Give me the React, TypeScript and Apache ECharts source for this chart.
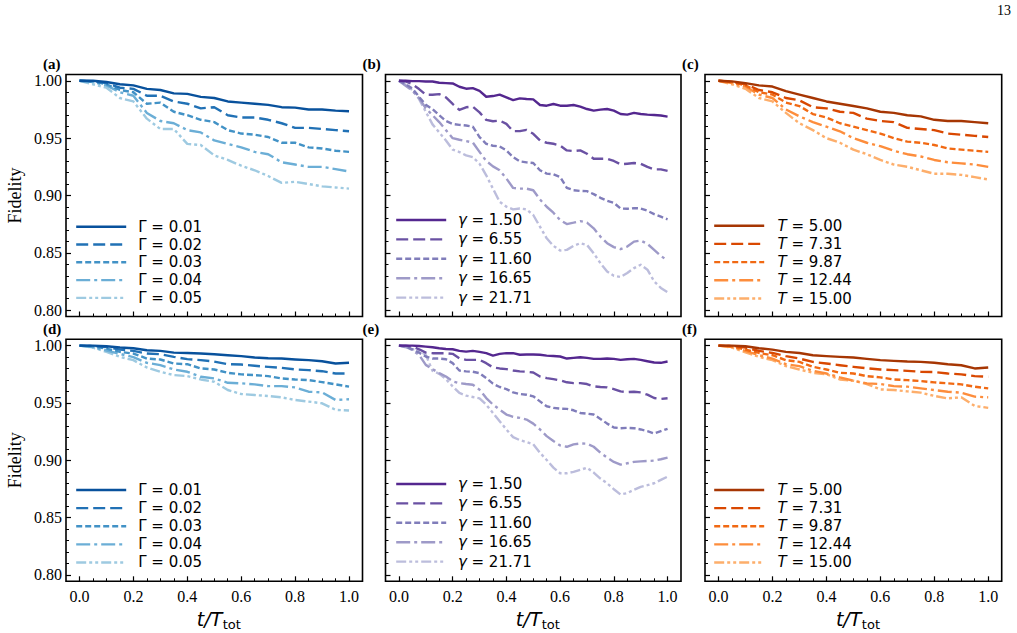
import React, { useEffect, useRef } from "react";
import * as echarts from "echarts";

// ---------- data ----------
const tCoarse = [0.0, 0.05, 0.1, 0.15, 0.2, 0.25, 0.3, 0.35, 0.4, 0.45, 0.5, 0.55, 0.6, 0.65, 0.7, 0.75, 0.8, 0.85, 0.9, 0.95, 1.0];
const tFine = [0.0, 0.025, 0.05, 0.075, 0.1, 0.125, 0.15, 0.175, 0.2, 0.225, 0.25, 0.275, 0.3, 0.325, 0.35, 0.375, 0.4, 0.425, 0.45, 0.475, 0.5, 0.525, 0.55, 0.575, 0.6, 0.625, 0.65, 0.675, 0.7, 0.725, 0.75, 0.775, 0.8, 0.825, 0.85, 0.875, 0.9, 0.925, 0.95, 0.975, 1.0];

const gammaBigLabels = ["Γ = 0.01", "Γ = 0.02", "Γ = 0.03", "Γ = 0.04", "Γ = 0.05"];
const gammaLabels = ["1.50", "6.55", "11.60", "16.65", "21.71"];
const tLabels = ["5.00", "7.31", "9.87", "12.44", "15.00"];

// (a)
const aG1 = [1.0, 1.0, 0.999, 0.997, 0.996, 0.993, 0.992, 0.989, 0.9886, 0.986, 0.985, 0.982, 0.981, 0.98, 0.979, 0.977, 0.9766, 0.975, 0.975, 0.974, 0.9734];
const aG2 = [1.0, 0.9995, 0.998, 0.994, 0.993, 0.987, 0.987, 0.982, 0.98, 0.976, 0.977, 0.97, 0.968, 0.968, 0.966, 0.963, 0.959, 0.959, 0.958, 0.957, 0.956];
const aG3 = [1.0, 0.9995, 0.997, 0.992, 0.99, 0.98, 0.981, 0.973, 0.97, 0.966, 0.964, 0.957, 0.954, 0.953, 0.951, 0.946, 0.946, 0.942, 0.941, 0.939, 0.938];
const aG4 = [1.0, 0.999, 0.996, 0.99, 0.987, 0.972, 0.965, 0.963, 0.957, 0.955, 0.948, 0.945, 0.942, 0.938, 0.936, 0.929, 0.927, 0.925, 0.925, 0.923, 0.921];
const aG5 = [1.0, 0.997, 0.994, 0.985, 0.982, 0.967, 0.958, 0.958, 0.945, 0.944, 0.935, 0.931, 0.926, 0.922, 0.917, 0.911, 0.912, 0.91, 0.908, 0.907, 0.906];

// (b)
const bG1 = [1.0, 1.0, 0.9997, 0.9997, 0.9994, 0.9994, 0.9983, 0.998, 0.9977, 0.9948, 0.9931, 0.9936, 0.9913, 0.9861, 0.9867, 0.9879, 0.9855, 0.9832, 0.9847, 0.9841, 0.9838, 0.9789, 0.9783, 0.9798, 0.9783, 0.9783, 0.9789, 0.9775, 0.9754, 0.974, 0.9749, 0.9754, 0.974, 0.9711, 0.9705, 0.972, 0.9711, 0.9705, 0.9702, 0.9697, 0.9688];
const bG2 = [1.0, 0.9994, 0.9971, 0.9928, 0.9879, 0.9879, 0.9884, 0.9855, 0.9798, 0.9746, 0.9769, 0.9775, 0.9725, 0.9659, 0.9647, 0.9653, 0.9624, 0.9561, 0.9561, 0.9572, 0.9538, 0.948, 0.946, 0.9451, 0.9436, 0.9393, 0.9387, 0.9393, 0.9364, 0.9321, 0.9321, 0.9321, 0.9301, 0.9272, 0.9277, 0.9283, 0.9277, 0.9249, 0.9228, 0.9228, 0.9214];
const bG3 = [1.0, 0.9971, 0.9933, 0.986, 0.979, 0.9754, 0.97, 0.965, 0.9624, 0.9616, 0.961, 0.9601, 0.9509, 0.9451, 0.9434, 0.9428, 0.9393, 0.9335, 0.9298, 0.9289, 0.9283, 0.922, 0.9191, 0.9185, 0.9162, 0.9067, 0.9046, 0.904, 0.9038, 0.9012, 0.898, 0.8954, 0.8936, 0.8887, 0.8884, 0.889, 0.8887, 0.8867, 0.8838, 0.8815, 0.8792];
const bG4 = [1.0, 0.9957, 0.9913, 0.985, 0.976, 0.97, 0.964, 0.957, 0.95, 0.9486, 0.9474, 0.9462, 0.938, 0.9301, 0.9254, 0.922, 0.9148, 0.9066, 0.906, 0.906, 0.9046, 0.8965, 0.8902, 0.885, 0.8786, 0.8751, 0.8763, 0.8777, 0.8763, 0.8714, 0.8642, 0.8584, 0.855, 0.8532, 0.8555, 0.8598, 0.8607, 0.8578, 0.8526, 0.8474, 0.8431];
const bG5 = [1.0, 0.9965, 0.9919, 0.984, 0.973, 0.962, 0.955, 0.948, 0.94, 0.9379, 0.935, 0.9335, 0.9277, 0.9176, 0.906, 0.8945, 0.8902, 0.8879, 0.8887, 0.8879, 0.883, 0.8728, 0.8627, 0.8561, 0.852, 0.8526, 0.8561, 0.8584, 0.8569, 0.8497, 0.841, 0.8338, 0.83, 0.8289, 0.8324, 0.8367, 0.8396, 0.8353, 0.8252, 0.8194, 0.8156];

// (c)
const cT1 = [1.0, 0.9995, 0.998, 0.996, 0.995, 0.991, 0.988, 0.985, 0.982, 0.98, 0.978, 0.976, 0.973, 0.972, 0.97, 0.969, 0.966, 0.965, 0.965, 0.964, 0.963];
const cT2 = [1.0, 0.999, 0.997, 0.992, 0.99, 0.985, 0.983, 0.977, 0.976, 0.973, 0.972, 0.967, 0.965, 0.964, 0.959, 0.958, 0.957, 0.954, 0.953, 0.952, 0.951];
const cT3 = [1.0, 0.999, 0.996, 0.99, 0.988, 0.981, 0.978, 0.971, 0.968, 0.963, 0.96, 0.957, 0.954, 0.95, 0.947, 0.946, 0.944, 0.941, 0.94, 0.939, 0.938];
const cT4 = [1.0, 0.998, 0.995, 0.988, 0.985, 0.975, 0.969, 0.964, 0.96, 0.956, 0.95, 0.946, 0.943, 0.939, 0.936, 0.934, 0.931, 0.929, 0.928, 0.927, 0.925];
const cT5 = [1.0, 0.997, 0.993, 0.985, 0.982, 0.972, 0.963, 0.957, 0.95, 0.946, 0.94, 0.936, 0.931, 0.927, 0.925, 0.922, 0.919, 0.919, 0.918, 0.916, 0.914];

// (d)
const dG1 = [1.0, 1.0, 0.9994, 0.9983, 0.9977, 0.996, 0.9954, 0.9939, 0.9936, 0.9931, 0.9925, 0.9916, 0.9908, 0.9896, 0.989, 0.9887, 0.9879, 0.9873, 0.9864, 0.9844, 0.985];
const dG2 = [1.0, 0.9997, 0.9988, 0.9965, 0.9954, 0.9931, 0.9925, 0.9902, 0.9882, 0.9873, 0.9861, 0.9838, 0.9835, 0.9824, 0.9815, 0.9806, 0.9792, 0.9786, 0.9777, 0.9757, 0.9757];
const dG3 = [1.0, 0.9994, 0.9974, 0.9945, 0.9931, 0.9887, 0.9879, 0.9844, 0.9838, 0.9801, 0.9792, 0.9763, 0.9749, 0.9743, 0.9734, 0.9714, 0.9705, 0.9699, 0.9682, 0.9662, 0.9642];
const dG4 = [1.0, 0.9986, 0.9957, 0.9928, 0.9899, 0.985, 0.983, 0.9792, 0.9772, 0.9728, 0.9714, 0.9676, 0.9671, 0.9662, 0.9647, 0.9647, 0.9636, 0.9598, 0.9592, 0.9526, 0.9532];
const dG5 = [1.0, 0.9983, 0.9945, 0.9902, 0.9873, 0.9809, 0.9772, 0.9743, 0.9734, 0.9705, 0.9685, 0.9613, 0.9578, 0.9569, 0.9561, 0.9549, 0.9526, 0.9512, 0.9497, 0.944, 0.9434];

// (e)
const eG1 = [1.0, 1.0, 1.0, 0.9997, 0.9991, 0.9986, 0.9977, 0.9971, 0.9968, 0.9954, 0.9948, 0.9954, 0.9945, 0.9934, 0.9913, 0.9928, 0.9934, 0.9934, 0.992, 0.9922, 0.9922, 0.992, 0.9913, 0.991, 0.9905, 0.9887, 0.9893, 0.9899, 0.9893, 0.9884, 0.9884, 0.9887, 0.9884, 0.9876, 0.9881, 0.9884, 0.9876, 0.9864, 0.9853, 0.985, 0.9861];
const eG2 = [1.0, 1.0, 0.9991, 0.9968, 0.9939, 0.9934, 0.9934, 0.9934, 0.9928, 0.989, 0.9876, 0.9876, 0.9876, 0.9847, 0.981, 0.9801, 0.9795, 0.9783, 0.9775, 0.9772, 0.9766, 0.9731, 0.9717, 0.9708, 0.9697, 0.968, 0.9673, 0.9673, 0.9665, 0.9645, 0.9639, 0.9636, 0.9621, 0.9601, 0.9595, 0.9598, 0.9592, 0.9572, 0.9543, 0.9535, 0.9541];
const eG3 = [1.0, 0.9991, 0.9968, 0.9939, 0.9905, 0.9887, 0.9887, 0.9881, 0.9847, 0.9783, 0.9775, 0.9772, 0.976, 0.9717, 0.9668, 0.9639, 0.9621, 0.9592, 0.9578, 0.9572, 0.9558, 0.9514, 0.9471, 0.9457, 0.9451, 0.9448, 0.9436, 0.9413, 0.9407, 0.9399, 0.9361, 0.932, 0.9286, 0.928, 0.9283, 0.928, 0.9269, 0.9254, 0.9234, 0.9254, 0.9275];
const eG4 = [1.0, 0.9991, 0.9962, 0.9919, 0.9832, 0.9795, 0.976, 0.9731, 0.9688, 0.9673, 0.9665, 0.9659, 0.9616, 0.9543, 0.9486, 0.9442, 0.9399, 0.9379, 0.937, 0.9355, 0.932, 0.9269, 0.9211, 0.9168, 0.913, 0.9118, 0.9139, 0.9147, 0.9145, 0.9118, 0.9066, 0.9023, 0.8986, 0.8962, 0.8974, 0.8986, 0.8991, 0.8994, 0.8997, 0.9009, 0.9023];
const eG5 = [1.0, 0.9986, 0.9968, 0.9957, 0.9919, 0.978, 0.9754, 0.9708, 0.9645, 0.9587, 0.9564, 0.9552, 0.954, 0.9485, 0.9413, 0.9341, 0.9269, 0.9202, 0.9176, 0.9159, 0.9139, 0.9066, 0.9003, 0.8936, 0.8887, 0.8887, 0.8899, 0.8916, 0.8936, 0.8893, 0.8841, 0.88, 0.8748, 0.8702, 0.8714, 0.8743, 0.8769, 0.8783, 0.88, 0.8829, 0.8858];

// (f)
const fT1 = [1.0, 1.0, 0.9994, 0.9977, 0.9965, 0.9945, 0.9936, 0.9916, 0.9908, 0.9902, 0.9896, 0.9884, 0.9873, 0.9867, 0.9861, 0.9858, 0.985, 0.9838, 0.9829, 0.9801, 0.9809];
const fT2 = [1.0, 0.9997, 0.9983, 0.9954, 0.9936, 0.9908, 0.9887, 0.9858, 0.9844, 0.9829, 0.9815, 0.9803, 0.9792, 0.9786, 0.978, 0.9772, 0.9769, 0.9757, 0.9749, 0.9734, 0.9728];
const fT3 = [1.0, 0.9994, 0.9965, 0.9936, 0.9916, 0.9873, 0.9858, 0.9815, 0.9792, 0.9763, 0.9757, 0.9734, 0.9723, 0.9705, 0.9699, 0.9691, 0.9679, 0.9671, 0.9662, 0.9642, 0.9627];
const fT4 = [1.0, 0.9988, 0.9954, 0.9916, 0.9887, 0.9838, 0.9821, 0.978, 0.9757, 0.9723, 0.9694, 0.9671, 0.9665, 0.9647, 0.9642, 0.9627, 0.9613, 0.9598, 0.959, 0.9555, 0.9549];
const fT5 = [1.0, 0.9983, 0.9942, 0.9902, 0.9873, 0.9821, 0.9792, 0.9763, 0.9751, 0.9705, 0.9694, 0.9665, 0.9618, 0.9613, 0.9601, 0.959, 0.9561, 0.954, 0.9549, 0.9474, 0.9457];

// axis ticks
const xMajorTicks = [0.0, 0.2, 0.4, 0.6, 0.8, 1.0];
const xMinorTicks = [0.05, 0.1, 0.15, 0.25, 0.3, 0.35, 0.45, 0.5, 0.55, 0.65, 0.7, 0.75, 0.85, 0.9, 0.95];
const yMajorTicks = [0.8, 0.85, 0.9, 0.95, 1.0];
const yMinorTicks = [0.81, 0.82, 0.83, 0.84, 0.86, 0.87, 0.88, 0.89, 0.91, 0.92, 0.93, 0.94, 0.96, 0.97, 0.98, 0.99];

// ---------- styling ----------
const blues = ["#08519c", "#2171b5", "#4292c6", "#6baed6", "#9ecae1"];
const purples = ["#54278f", "#6a51a3", "#807dba", "#9e9ac8", "#bcbddc"];
const oranges = ["#a63603", "#d94801", "#f16913", "#fd8d3c", "#fdae6b"];
const dashes: any[] = ["solid", [12, 5], [6, 3], [14, 4, 3, 4], [10, 3, 3, 3, 3, 3]];

const X_MIN = -0.05, X_MAX = 1.05, Y_MIN = 0.7945, Y_MAX = 1.0055;

const grids = [
  { left: 66, top: 74.5, width: 296.5, height: 242 },
  { left: 385.5, top: 74.5, width: 295.5, height: 242 },
  { left: 705, top: 74.5, width: 296.7, height: 242 },
  { left: 66, top: 339.3, width: 296.5, height: 242 },
  { left: 385.5, top: 339.3, width: 295.5, height: 242 },
  { left: 705, top: 339.3, width: 296.7, height: 242 },
];

const legendPos = [
  { left: 75, top: 217.8, pitch: 17.8, pad: 7 },
  { left: 395, top: 210.3, pitch: 19.4, pad: 6.7 },
  { left: 713, top: 216.6, pitch: 18.2, pad: 8.4 },
  { left: 75, top: 481, pitch: 18.1, pad: 7 },
  { left: 395, top: 474.3, pitch: 19.4, pad: 6.7 },
  { left: 713, top: 481, pitch: 18.1, pad: 8.4 },
];

const panelLetters = ["(a)", "(b)", "(c)", "(d)", "(e)", "(f)"];

function buildOption() {
  const panels = [
    { t: tCoarse, ys: [aG1, aG2, aG3, aG4, aG5], colors: blues, labels: gammaBigLabels },
    { t: tFine, ys: [bG1, bG2, bG3, bG4, bG5], colors: purples, labels: gammaLabels.map((v) => `{it|γ} = ${v}`) },
    { t: tCoarse, ys: [cT1, cT2, cT3, cT4, cT5], colors: oranges, labels: tLabels.map((v) => `{it|T} = ${v}`) },
    { t: tCoarse, ys: [dG1, dG2, dG3, dG4, dG5], colors: blues, labels: gammaBigLabels },
    { t: tFine, ys: [eG1, eG2, eG3, eG4, eG5], colors: purples, labels: gammaLabels.map((v) => `{it|γ} = ${v}`) },
    { t: tCoarse, ys: [fT1, fT2, fT3, fT4, fT5], colors: oranges, labels: tLabels.map((v) => `{it|T} = ${v}`) },
  ];

  const labelMap: Record<string, string> = {};
  const series: any[] = [];
  const legends: any[] = [];
  const xAxes: any[] = [];
  const yAxes: any[] = [];

  panels.forEach((p, g) => {
    const names: string[] = [];
    p.ys.forEach((ys, i) => {
      const name = `p${g}s${i}`;
      names.push(name);
      labelMap[name] = p.labels[i];
      series.push({
        type: "line",
        name,
        xAxisIndex: 2 * g,
        yAxisIndex: 2 * g,
        data: p.t.map((t, k) => [t, ys[k]]),
        symbol: "none",
        showSymbol: false,
        smooth: false,
        lineStyle: { color: p.colors[i], width: 2.4, type: dashes[i], cap: "butt", join: "round" },
        itemStyle: { color: p.colors[i] },
        emphasis: { disabled: true },
        z: 10 - i,
      });
    });
    const lp = legendPos[g];
    legends.push({
      show: true,
      data: names.map((n) => ({ name: n, itemStyle: { opacity: 0 } })),
      orient: "vertical",
      left: lp.left,
      top: lp.top,
      padding: 0,
      itemGap: 0,
      itemWidth: 50,
      itemHeight: 12,
      selectedMode: false,
      itemStyle: { opacity: 0 },
      lineStyle: { width: 2.4 },
      formatter: (n: string) => labelMap[n],
      textStyle: {
        color: "#000",
        fontFamily: "DejaVu Sans",
        fontSize: 15,
        lineHeight: lp.pitch,
        padding: [0, 0, 0, lp.pad],
        rich: {
          it: { fontStyle: "italic", fontFamily: "DejaVu Sans", fontSize: 15, lineHeight: lp.pitch, color: "#000" },
        },
      },
    });

    const bottomRow = g >= 3;
    const leftCol = g % 3 === 0;
    xAxes.push({
      type: "value",
      gridIndex: g,
      min: X_MIN,
      max: X_MAX,
      position: "bottom",
      axisLine: { show: false, onZero: false },
      axisTick: { show: true, inside: true, length: 5, lineStyle: { color: "#000", width: 1.2 }, customValues: xMajorTicks },
      axisLabel: {
        show: bottomRow,
        customValues: xMajorTicks,
        formatter: (v: number) => v.toFixed(1),
        margin: 7,
        color: "#000",
        fontFamily: "Liberation Serif",
        fontSize: 16,
      },
      splitLine: { show: false },
    });
    xAxes.push({
      type: "value",
      gridIndex: g,
      min: X_MIN,
      max: X_MAX,
      position: "bottom",
      axisLine: { show: false, onZero: false },
      axisTick: { show: true, inside: true, length: 3, lineStyle: { color: "#000", width: 1 }, customValues: xMinorTicks },
      axisLabel: { show: false },
      splitLine: { show: false },
    });
    yAxes.push({
      type: "value",
      gridIndex: g,
      min: Y_MIN,
      max: Y_MAX,
      position: "left",
      axisLine: { show: false, onZero: false },
      axisTick: { show: true, inside: true, length: 5, lineStyle: { color: "#000", width: 1.2 }, customValues: yMajorTicks },
      axisLabel: {
        show: leftCol,
        customValues: yMajorTicks,
        formatter: (v: number) => v.toFixed(2),
        margin: 4,
        color: "#000",
        fontFamily: "Liberation Serif",
        fontSize: 16,
      },
      splitLine: { show: false },
    });
    yAxes.push({
      type: "value",
      gridIndex: g,
      min: Y_MIN,
      max: Y_MAX,
      position: "left",
      axisLine: { show: false, onZero: false },
      axisTick: { show: true, inside: true, length: 3, lineStyle: { color: "#000", width: 1 }, customValues: yMinorTicks },
      axisLabel: { show: false },
      splitLine: { show: false },
    });
  });

  const graphics: any[] = [];
  grids.forEach((gr, g) => {
    graphics.push({
      type: "text",
      x: gr.left - 23,
      y: gr.top - 10.5,
      style: { text: panelLetters[g], fontFamily: "Liberation Serif", fontWeight: "bold", fontSize: 15, fill: "#000", verticalAlign: "middle", align: "left" },
    });
  });
  // y-axis titles
  [grids[0], grids[3]].forEach((gr) => {
    graphics.push({
      type: "text",
      x: 15,
      y: gr.top + gr.height / 2,
      rotation: Math.PI / 2,
      style: { text: "Fidelity", fontFamily: "Liberation Serif", fontSize: 18, fill: "#000", align: "center", verticalAlign: "middle" },
    });
  });
  // x-axis titles
  [grids[3], grids[4], grids[5]].forEach((gr) => {
    const cx = gr.left + gr.width / 2;
    graphics.push({
      type: "text",
      x: cx + 8,
      y: 619,
      style: { text: "t/T", fontFamily: "DejaVu Sans", fontStyle: "italic", fontSize: 19, fill: "#000", align: "right", verticalAlign: "middle" },
    });
    graphics.push({
      type: "text",
      x: cx + 8.5,
      y: 624,
      style: { text: "tot", fontFamily: "DejaVu Sans", fontSize: 13, fill: "#000", align: "left", verticalAlign: "middle" },
    });
  });
  graphics.push({
    type: "text",
    x: 1011,
    y: 10,
    style: { text: "13", fontFamily: "Liberation Serif", fontSize: 14, fill: "#000", align: "right", verticalAlign: "middle" },
  });

  return {
    animation: false,
    backgroundColor: "#fff",
    grid: grids.map((g) => ({ ...g, show: true, borderColor: "#000", borderWidth: 1.6, backgroundColor: "transparent" })),
    xAxis: xAxes,
    yAxis: yAxes,
    legend: legends,
    series,
    graphic: graphics,
  };
}

export default function App() {
  const ref = useRef<HTMLDivElement>(null);
  useEffect(() => {
    if (!ref.current) return;
    const chart = echarts.init(ref.current, null, { renderer: "svg" });
    chart.setOption(buildOption() as any);
    return () => chart.dispose();
  }, []);
  return (
    <div
      ref={ref}
      style={{ position: "fixed", left: 0, top: 0, width: 1017, height: 633, background: "#fff" }}
    />
  );
}
